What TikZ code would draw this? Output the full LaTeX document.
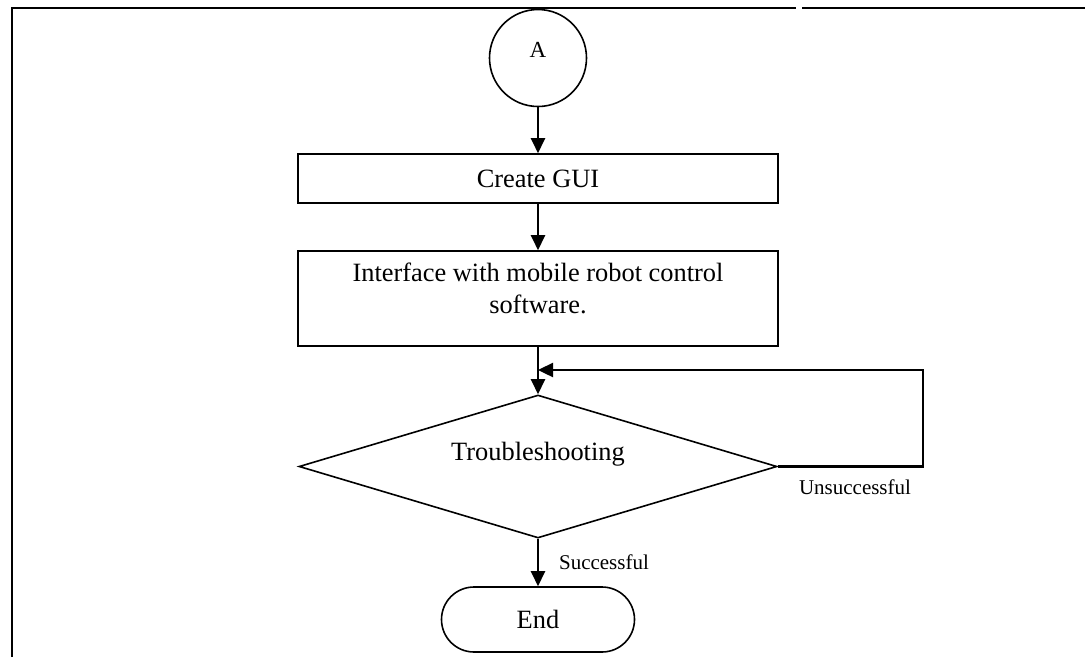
\documentclass[tikz,border=0pt]{standalone}
\usepackage{fontspec}
\setmainfont{Liberation Serif}
\usetikzlibrary{shapes.geometric,arrows.meta}
\begin{document}
\begin{tikzpicture}[x=1pt,y=-1pt,
  outline/.style={draw,line width=1.6pt,inner sep=0pt},
  flow/.style={line width=2.4pt,-{Triangle[length=15pt,width=14pt]}},
  framestroke/.style={line width=2.4pt},
  maintext/.style={font=\fontsize{26.4}{32}\selectfont,inner sep=0pt},
  smalltext/.style={font=\fontsize{21}{24}\selectfont,inner sep=0pt}]
\useasboundingbox (0,0) rectangle (1085,657);
% page frame
\draw[framestroke] (12,657) -- (12,8) -- (796,8);
\draw[framestroke] (802,8) -- (1085,8);
% connector A
\node[outline,circle,minimum size=97pt] (A) at (538,58) {};
\node[font=\fontsize{23}{27}\selectfont,inner sep=0pt] (Alabel) at (538,50) {A};
% Create GUI
\node[outline,rectangle,minimum width=480pt,minimum height=49pt,maintext] (gui) at (538,178.5) {Create GUI};
% Interface
\node[outline,rectangle,minimum width=480pt,minimum height=95pt] (iface) at (538,298.5) {};
\node[maintext,align=center] (ifacetext) at (538,288) {Interface with mobile robot control\\software.};
% decision
\node[outline,diamond,minimum width=478pt,minimum height=143pt] (dec) at (538,466.5) {};
\node[maintext] (dectext) at (538,454) {Troubleshooting};
% end
\node[outline,rectangle,rounded corners=32.5pt,minimum width=193pt,minimum height=65pt,maintext] (end) at (538,619.5) {End};
% connectors
\coordinate (join) at (538,370);
\coordinate (loop) at (923,370);
\draw[flow] (A.south) -- (gui.north);
\draw[flow] (gui.south) -- (iface.north);
\draw[flow] (iface.south) -- (dec.north);
\draw[flow] (dec.east) -| (loop) -- (join);
\draw[flow] (dec.south) -- (end.north);
% labels
\node[smalltext] (succ) at (604,562) {Successful};
\node[smalltext] (unsucc) at (855,487) {Unsuccessful};
\end{tikzpicture}
\end{document}
